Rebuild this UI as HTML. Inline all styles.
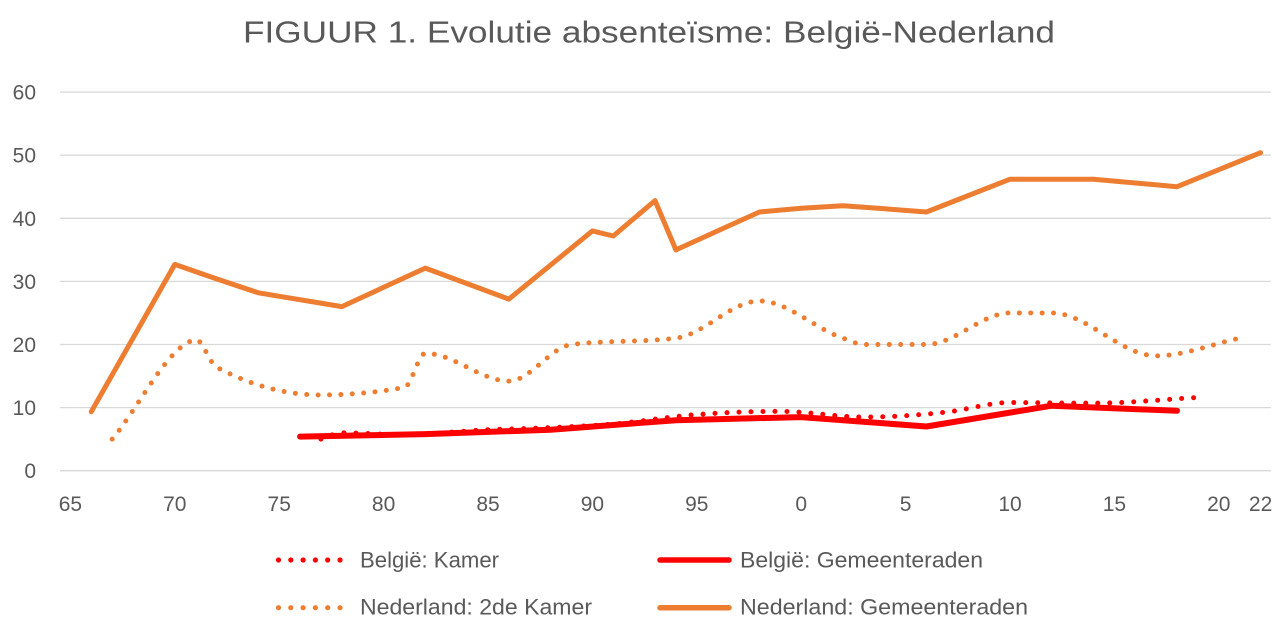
<!DOCTYPE html>
<html><head><meta charset="utf-8"><style>
html,body{margin:0;padding:0;background:#fff;}
svg{display:block;}
text{font-family:"Liberation Sans",Arial,sans-serif;fill:#595959;}
</style></head><body>
<svg width="1284" height="632" viewBox="0 0 1284 632" xmlns="http://www.w3.org/2000/svg">
<rect width="1284" height="632" fill="#fff"/>
<text x="243" y="42.5" font-size="31" textLength="812" lengthAdjust="spacingAndGlyphs">FIGUUR 1. Evolutie absenteïsme: België-Nederland</text>
<g stroke="#D9D9D9" stroke-width="1.3">
<line x1="60" x2="1271" y1="470.7" y2="470.7"/>
<line x1="60" x2="1271" y1="407.6" y2="407.6"/>
<line x1="60" x2="1271" y1="344.5" y2="344.5"/>
<line x1="60" x2="1271" y1="281.4" y2="281.4"/>
<line x1="60" x2="1271" y1="218.3" y2="218.3"/>
<line x1="60" x2="1271" y1="155.2" y2="155.2"/>
<line x1="60" x2="1271" y1="92.1" y2="92.1"/>
</g>
<g font-size="21" text-anchor="end">
<text x="36" y="478.2">0</text>
<text x="36" y="415.1">10</text>
<text x="36" y="352">20</text>
<text x="36" y="288.9">30</text>
<text x="36" y="225.8">40</text>
<text x="36" y="162.7">50</text>
<text x="36" y="99.6">60</text>
</g>
<g font-size="21" text-anchor="middle">
<text x="70.4" y="511">65</text>
<text x="174.8" y="511">70</text>
<text x="279.2" y="511">75</text>
<text x="383.6" y="511">80</text>
<text x="488" y="511">85</text>
<text x="592.4" y="511">90</text>
<text x="696.8" y="511">95</text>
<text x="801.2" y="511">0</text>
<text x="905.6" y="511">5</text>
<text x="1010" y="511">10</text>
<text x="1114.4" y="511">15</text>
<text x="1218.8" y="511">20</text>
<text x="1260.6" y="511">22</text>
</g>
<!-- België: Gemeenteraden -->
<polyline fill="none" stroke="#FF0000" stroke-width="6" stroke-linejoin="round" stroke-linecap="round"
points="300.08,436.6 425.36,434.1 550.64,429.7 675.92,420.2 801.2,417.1 926.48,426.5 1051.76,405.7 1177.04,410.8"/>
<!-- België: Kamer -->
<path fill="none" stroke="#FF0000" stroke-width="5" stroke-linecap="round" stroke-dasharray="0 12"
d="M320.96,439.15 C327.92,437.05 334.88,432.84 341.84,432.84 C362.72,432.84 383.60,434.73 404.48,434.73 C432.32,434.73 460.16,430.81 488.0,429.69 C501.92,429.13 515.84,428.95 529.76,428.42 C557.60,427.37 585.44,426.32 613.28,424.01 C641.12,421.70 668.96,416.64 696.8,414.54 C724.64,412.44 752.48,411.39 780.32,411.39 C808.16,411.39 836.0,417.07 863.84,417.07 C891.68,417.07 919.52,415.14 947.36,412.02 C968.24,409.68 988.88,402.55 1010.0,402.55 C1037.84,402.55 1065.68,403.19 1093.52,403.19 C1128.32,403.19 1163.12,399.39 1197.92,397.5"/>
<!-- Nederland: 2de Kamer -->
<path fill="none" stroke="#ED7D31" stroke-width="5" stroke-linecap="round" stroke-dasharray="0 11.4"
d="M112.16,439.15 C139.99,405.92 167.84,345.45 195.68,339.45 C202.64,339.45 209.60,363.52 216.56,367.22 C251.36,385.73 286.16,394.98 320.96,394.98 C348.80,394.98 376.64,392.46 404.48,387.41 C411.44,386.15 418.40,353.33 425.36,353.33 C453.20,353.33 481.04,381.10 508.88,381.10 C529.76,381.10 550.64,347.02 571.52,344.5 C606.32,340.29 641.12,342.40 675.92,338.19 C703.76,334.82 731.60,300.96 759.44,300.96 C787.28,300.96 815.12,328.98 842.96,338.19 C849.92,340.49 856.88,344.5 863.84,344.5 L926.48,344.5 C954.32,344.5 982.16,312.95 1010.0,312.95 L1051.76,312.95 C1086.56,312.95 1121.36,355.86 1156.16,355.86 C1184.0,355.86 1211.84,344.08 1239.68,338.19"/>
<!-- Nederland: Gemeenteraden -->
<polyline fill="none" stroke="#ED7D31" stroke-width="5" stroke-linejoin="round" stroke-linecap="round"
points="91.28,411.7 174.8,264.4 216.56,278.9 258.32,292.8 341.84,306.6 425.36,268.1 508.88,299.1 592.4,230.9 613.28,236.0 655.04,200.6 675.92,249.9 717.68,230.9 759.44,212.0 801.2,208.2 842.96,205.7 884.72,208.8 926.48,212.0 1010.0,179.2 1093.52,179.2 1177.04,186.7 1260.56,152.7"/>
<!-- Legend -->
<g fill="#FF0000">
<circle cx="278.5" cy="560" r="2.6"/><circle cx="290.8" cy="560" r="2.6"/><circle cx="303.1" cy="560" r="2.6"/><circle cx="315.4" cy="560" r="2.6"/><circle cx="327.7" cy="560" r="2.6"/><circle cx="340" cy="560" r="2.6"/>
</g>
<g fill="#ED7D31">
<circle cx="278.5" cy="607.7" r="2.6"/><circle cx="290.8" cy="607.7" r="2.6"/><circle cx="303.1" cy="607.7" r="2.6"/><circle cx="315.4" cy="607.7" r="2.6"/><circle cx="327.7" cy="607.7" r="2.6"/><circle cx="340" cy="607.7" r="2.6"/>
</g>
<line x1="660" x2="729" y1="560" y2="560" stroke="#FF0000" stroke-width="5.5" stroke-linecap="round"/>
<line x1="660" x2="729" y1="607.7" y2="607.7" stroke="#ED7D31" stroke-width="5.5" stroke-linecap="round"/>
<g font-size="22">
<text x="360" y="567.3" textLength="139" lengthAdjust="spacingAndGlyphs">België: Kamer</text>
<text x="740" y="567.3" textLength="243" lengthAdjust="spacingAndGlyphs">België: Gemeenteraden</text>
<text x="360" y="614.6" textLength="232" lengthAdjust="spacingAndGlyphs">Nederland: 2de Kamer</text>
<text x="740" y="614.6" textLength="288" lengthAdjust="spacingAndGlyphs">Nederland: Gemeenteraden</text>
</g>
</svg>
</body></html>
